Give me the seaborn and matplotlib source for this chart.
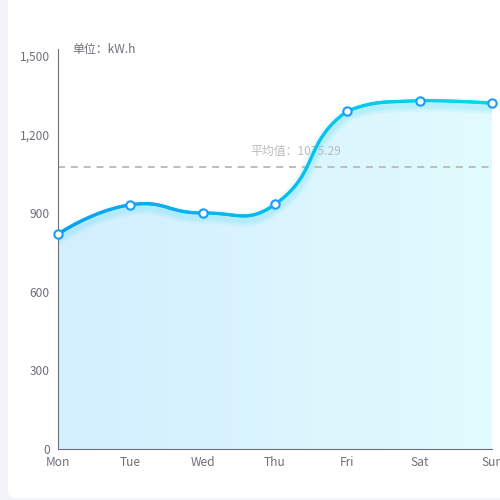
import numpy as np
import pandas as pd
import matplotlib
matplotlib.use('Agg')
import matplotlib.pyplot as plt
import seaborn as sns
from matplotlib.collections import LineCollection
from matplotlib.colors import LinearSegmentedColormap
from matplotlib.patches import FancyBboxPatch
from matplotlib.ticker import FuncFormatter

# chart data
days = ['Mon', 'Tue', 'Wed', 'Thu', 'Fri', 'Sat', 'Sun']
values = [820, 932, 901, 934, 1290, 1330, 1320]
y_ticks = [0, 300, 600, 900, 1200, 1500]
unit_label = '单位：kW.h'
avg_prefix = '平均值：'

# pixel scale of the reference grid (used only for the curve smoothing)
PX_X = 434 / 6
PX_Y = 393 / 1500


def echarts_smooth(xs, ys, smooth=0.5, n=40):
    # bezier smoothing like an echarts 4 "smooth: true" line, done in pixel space
    p = np.column_stack([np.asarray(xs) * PX_X, np.asarray(ys) * PX_Y]).astype(float)
    lo, hi = p.min(axis=0), p.max(axis=0)
    m = len(p)
    out = [p[0]]
    cp0 = p[0].copy()
    t = np.linspace(0, 1, n)[1:, None]
    for k in range(1, m):
        cur, prev = p[k], p[k - 1]
        if k == m - 1:
            cp1 = cur.copy()
            v = np.zeros(2)
            r = 0.5
        else:
            nxt = p[k + 1]
            v = nxt - prev
            lp = np.hypot(*(cur - prev))
            ln = np.hypot(*(nxt - cur))
            r = ln / (ln + lp)
            cp1 = cur - v * smooth * (1 - r)
        cp0 = np.clip(cp0, lo, hi)
        cp1 = np.clip(cp1, lo, hi)
        seg = ((1 - t) ** 3 * prev + 3 * (1 - t) ** 2 * t * cp0
               + 3 * (1 - t) * t ** 2 * cp1 + t ** 3 * cur)
        out.extend(seg)
        cp0 = cur + v * smooth * r
    out = np.array(out)
    return out[:, 0] / PX_X, out[:, 1] / PX_Y


df = pd.DataFrame({'pos': range(len(days)), 'day': days, 'value': values})
avg = df['value'].mean()
cx, cy = echarts_smooth(df['pos'].tolist(), df['value'].tolist())

sns.set_theme(style='white')
plt.rcParams['font.family'] = ['Noto Sans CJK SC', 'DejaVu Sans']

fig = plt.figure(figsize=(5, 5), dpi=100, facecolor='#f3f4f9')
card = FancyBboxPatch((8 / 500, 2 / 500), 1.2, 1.2, transform=fig.transFigure,
                      boxstyle='round,pad=0,rounding_size=0.014',
                      facecolor='white', edgecolor='none', zorder=-10)
fig.patches.append(card)

ax = fig.add_axes([58 / 500, 51 / 500, 434 / 500, 400 / 500])
ax.set_facecolor('none')
ymax = 1500 * 400 / 393
ax.set_xlim(0, 6)
ax.set_ylim(0, ymax)

# area with a horizontal gradient
area = ax.fill_between(cx, cy, 0, color='none', lw=0)
grad_cmap = LinearSegmentedColormap.from_list('area', ['#d3efff', '#e1fbfd'])
img = ax.imshow(np.linspace(0, 1, 256).reshape(1, -1), cmap=grad_cmap, aspect='auto',
                extent=[0, 6, 0, ymax], origin='lower', zorder=1)
img.set_clip_path(area.get_paths()[0], transform=ax.transData)

# glow under the line
off = 4 / PX_Y
for w, a in [(14, 0.12), (10, 0.16), (6, 0.2)]:
    ax.plot(cx, cy - off, color='#7fe3f7', lw=w * 0.72, alpha=a,
            solid_capstyle='round', zorder=2)

# average line and label
ax.axhline(avg, color='#bdbdbd', lw=1.4, dashes=(3.6, 3.0), zorder=2.5)
ax.annotate(f'{avg_prefix}{avg:.2f}', xy=(3.29, avg), xytext=(0, 7),
            textcoords='offset points', ha='center', va='bottom',
            fontsize=8.6, color='#bcbcbc', zorder=2.4)

# main line with a blue->cyan gradient
pts = np.column_stack([cx, cy]).reshape(-1, 1, 2)
segs = np.concatenate([pts[:-1], pts[1:]], axis=1)
line_cmap = LinearSegmentedColormap.from_list('line', ['#0a9ff6', '#00dbe8'])
lc = LineCollection(segs, cmap=line_cmap, norm=plt.Normalize(0, 6), lw=2.3,
                    capstyle='round', zorder=3)
lc.set_array((cx[:-1] + cx[1:]) / 2)
ax.add_collection(lc)

sns.scatterplot(data=df, x='pos', y='value', ax=ax, s=36, color='white',
                edgecolor='#1a9cf7', linewidth=1.5, zorder=4, clip_on=False)

ax.set_xticks(df['pos'], days)
ax.set_yticks(y_ticks)
ax.yaxis.set_major_formatter(FuncFormatter(lambda v, p: f'{int(v):,}'))
ax.tick_params(length=0, labelsize=8.6, labelcolor='#6e7079')
ax.tick_params(axis='y', pad=6)
ax.tick_params(axis='x', pad=5)
ax.set_xlabel('')
ax.set_ylabel('')
for s in ['top', 'right']:
    ax.spines[s].set_visible(False)
for s in ['left', 'bottom']:
    ax.spines[s].set_color('#6e7079')
    ax.spines[s].set_linewidth(0.8)

fig.text(72 / 500, 1 - 50 / 500, unit_label, ha='left', va='center',
         fontsize=8.6, color='#6e7079')

fig.savefig('out.png', dpi=100, facecolor=fig.get_facecolor())
